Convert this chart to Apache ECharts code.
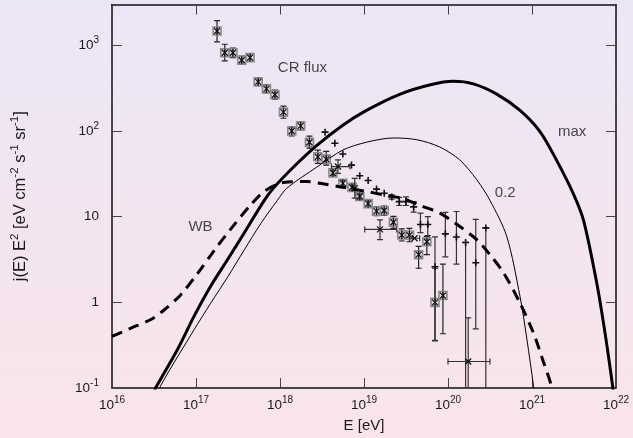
<!DOCTYPE html>
<html><head><meta charset="utf-8">
<script src="https://cdn.jsdelivr.net/npm/echarts@6/dist/echarts.min.js"></script>
<style>html,body{margin:0;padding:0;}#c{width:633px;height:438px;}</style>
</head><body><div id="c"></div>
<script>
// ---- axis ticks ----
const xTickExps = [16,17,18,19,20,21,22];
const yTickExps = [-1,0,1,2,3];

// ---- model curves [E (eV), j E^2] ----
const maxCurve = [[3.2e16,0.09],[3.3e16,0.1],[6.0e16,0.28],[9.5e16,0.69],[1.5e17,1.55],[2.4e17,3.2],[3.76e17,6.5],[6.5e17,15.5],[8.3e17,21.4],[1.45e18,38],[2.75e18,68],[5.6e18,117],[1.07e19,174],[2.7e19,270],[6.2e19,347],[1.15e20,380],[2.0e20,355],[3.8e20,270],[7.2e20,174],[1.25e21,98],[1.95e21,46],[3.1e21,18.6],[4.1e21,9.1],[5.9e21,1.68],[7.4e21,0.44],[9.1e21,0.107],[9.4e21,0.08]];
const fracCurve = [[3.7e16,0.09],[3.8e16,0.107],[9.5e16,0.48],[1.5e17,0.98],[2.4e17,2.0],[3.76e17,4.1],[5.9e17,8.3],[9.3e17,15.5],[1.2e18,21.4],[2.75e18,38],[5.6e18,60],[1.07e19,74],[2.24e19,83],[4.3e19,79],[8.0e19,65],[1.38e20,46],[2.2e20,27],[3.16e20,15.5],[5.0e20,5.9],[7.2e20,1.17],[8.7e20,0.37],[1.04e21,0.107],[1.07e21,0.08]];
const wbCurve = [[1e16,0.40],[1.68e16,0.50],[2.9e16,0.63],[4.2e16,0.82],[6.6e16,1.23],[1.05e17,2.19],[1.66e17,4.07],[2.63e17,7.3],[4.5e17,13.8],[6.6e17,20],[1.1e18,25],[2.1e18,25.7],[3.0e18,24.5],[5.1e18,22.4],[9.8e18,20],[1.86e19,17.7],[2.95e19,16.2],[4.7e19,13.5],[8.0e19,11],[1.26e20,8.2],[2.2e20,5.4],[3.16e20,3.6],[4.6e20,2.2],[7.2e20,0.98],[1.04e21,0.44],[1.35e21,0.21],[1.7e21,0.107],[1.82e21,0.08]];

// ---- measured CR flux, boxed asterisks ----
const crE   = [1.78e17,2.2e17,2.75e17,3.5e17,4.4e17,5.5e17,6.9e17,8.7e17,1.1e18,1.38e18,1.76e18,2.24e18,2.82e18,3.55e18,4.27e18,5.6e18,7.2e18,8.9e18,1.12e19,1.41e19,1.74e19,2.24e19,2.82e19,3.47e19,4.47e19,5.6e19,7.0e19,8.7e19];
const crVal = [1470,820,820,670,720,375,310,265,166,100,115,74,50,47,32.5,24.5,22,17.2,14.2,11.6,11.8,8.6,6.1,6.1,3.6,5.1,1.0,1.2];
const crLow = [1100,660,720,600,650,340,280,235,141,88,103,63,42,40,30,22.5,20,15.7,12.9,10.3,10.4,7.3,5.2,5.1,2.5,3.6,0.36,0.43];
const crHigh= [1950,1030,930,750,800,420,345,300,195,112,128,87,60,58,35,26.5,24,18.8,15.6,13,13.3,10.1,7.2,7.3,4.5,5.9,2.5,2.8];

// ---- measured CR flux, crosses ----
const hrE   = [3.44e18,4.5e18,5.6e18,7.1e18,8.9e18,1.12e19,1.41e19,1.74e19,2.14e19,2.63e19,3.16e19,3.9e19,4.7e19,5.75e19,7.0e19,9.3e19,1.26e20,1.62e20,2.14e20,2.82e20];
const hrVal = [97,72,54,40,30,26.5,21,18.8,17,15,15,13,8.1,8.1,2.6,6.3,5.8,5.0,2.9,7.4];
const hrLow = [97,72,54,40,30,26.5,21,18.8,16,13.5,13.5,11.3,6.5,6,0.355,3.4,2.8,0.01,0.49,0.01];
const hrHigh= [97,72,54,40,30,26.5,21,18.8,18,16.8,17,15,11,10,5.8,11.2,11.5,5.0,9.3,7.4];

// ---- measured CR flux, x marks with energy bins ----
const agE    = [4.9e18,7.76e18,1.55e19,4.0e19,1.74e20];
const agVal  = [38.5,21.5,7.1,5.6,0.204];
const agLow  = [32,16.5,5.4,5.6,0.01];
const agHigh = [46,28,9.2,5.6,0.66];
const agELow = [4.1e18,7.76e18,1.02e19,3.5e19,1.0e20];
const agEHigh= [6.8e18,7.76e18,2.45e19,4.6e19,3.16e20];

// ---- annotations ----
const noteText = ['CR flux','max','0.2','WB'];
const noteE    = [1.85e18,3.0e21,4.8e20,1.13e17];
const noteY    = [547,97,19.1,7.65];

const FONT = '"Liberation Sans", Arial, Helvetica, sans-serif';
const chart = echarts.init(document.getElementById('c'), null, {renderer:'canvas'});

function expLabel(v, plainSmall){
  const e = Math.round(Math.log10(v));
  if (plainSmall && e === 0) return '{b|1}';
  if (plainSmall && e === 1) return '{b|10}';
  return '{b|10}{s|' + e + '}';
}
const richTick = {
  b:{fontSize:13.5, fontFamily:FONT, color:'#1a1a1a'},
  s:{fontSize:10, fontFamily:FONT, color:'#1a1a1a', padding:[0,0,10,0]}
};

function seg(x1,y1,x2,y2,stroke,w){
  return {type:'line', shape:{x1:x1,y1:y1,x2:x2,y2:y2}, style:{stroke:stroke, lineWidth:w}};
}
function errorBars(children, api, x, lo, hi, xl, xh, y, col){
  const p = api.coord([x,y]);
  if (lo < hi){
    const a = api.coord([x,lo]), b = api.coord([x,hi]);
    children.push(seg(p[0],a[1],p[0],b[1],col,1.2));
    children.push(seg(p[0]-3,a[1],p[0]+3,a[1],col,1.2));
    children.push(seg(p[0]-3,b[1],p[0]+3,b[1],col,1.2));
  }
  if (xl < xh){
    const a = api.coord([xl,y]), b = api.coord([xh,y]);
    children.push(seg(a[0],p[1],b[0],p[1],col,1.2));
    children.push(seg(a[0],p[1]-3,a[0],p[1]+3,col,1.2));
    children.push(seg(b[0],p[1]-3,b[0],p[1]+3,col,1.2));
  }
  return p;
}

function renderBoxed(params, api){
  const x=api.value(0), y=api.value(1), lo=api.value(2), hi=api.value(3);
  const ch=[];
  const p = errorBars(ch, api, x, lo, hi, 0, 0, y, '#222');
  ch.push({type:'rect', shape:{x:p[0]-4,y:p[1]-4,width:8,height:8}, style:{stroke:'#8c8c8c', lineWidth:1.6, fill:'rgba(170,170,170,0.25)'}});
  ch.push(seg(p[0]-3,p[1]-3,p[0]+3,p[1]+3,'#111',1.2));
  ch.push(seg(p[0]-3,p[1]+3,p[0]+3,p[1]-3,'#111',1.2));
  ch.push(seg(p[0],p[1]-4,p[0],p[1]+4,'#111',1.2));
  return {type:'group', children:ch};
}
function renderPlus(params, api){
  const x=api.value(0), y=api.value(1), lo=api.value(2), hi=api.value(3);
  const ch=[];
  const p = errorBars(ch, api, x, lo, hi, 0, 0, y, '#333');
  ch.push(seg(p[0]-3.5,p[1],p[0]+3.5,p[1],'#111',1.6));
  ch.push(seg(p[0],p[1]-3.5,p[0],p[1]+3.5,'#111',1.6));
  return {type:'group', children:ch};
}
function renderX(params, api){
  const x=api.value(0), y=api.value(1), lo=api.value(2), hi=api.value(3), xl=api.value(4), xh=api.value(5);
  const ch=[];
  const p = errorBars(ch, api, x, lo, hi, xl, xh, y, '#333');
  ch.push(seg(p[0]-3,p[1]-3,p[0]+3,p[1]+3,'#111',1.2));
  ch.push(seg(p[0]-3,p[1]+3,p[0]+3,p[1]-3,'#111',1.2));
  return {type:'group', children:ch};
}

const axisCommon = {
  type:'log', logBase:10,
  axisLine:{show:true, onZero:false, lineStyle:{color:'#111', width:1.5}},
  axisTick:{show:true, inside:true, length:10, lineStyle:{color:'#444', width:1}},
  minorTick:{show:false}, splitLine:{show:false}
};

const option = {
  backgroundColor:{type:'linear', x:0, y:0, x2:0, y2:1, colorStops:[{offset:0,color:'#ebe6f6'},{offset:1,color:'#fae4ea'}]},
  animation:false,
  grid:{left:112, right:17, top:4.5, bottom:49, containLabel:false},
  xAxis:[
    Object.assign({}, axisCommon, {position:'bottom', min:Math.pow(10,xTickExps[0]), max:Math.pow(10,xTickExps[xTickExps.length-1]),
      name:'E [eV]', nameLocation:'middle', nameGap:30,
      nameTextStyle:{fontSize:15, fontFamily:FONT, color:'#1a1a1a'},
      axisLabel:{show:true, margin:7, formatter:v=>expLabel(v,false), rich:richTick}}),
    Object.assign({}, axisCommon, {position:'top', min:Math.pow(10,xTickExps[0]), max:Math.pow(10,xTickExps[xTickExps.length-1]), axisLabel:{show:false}})
  ],
  yAxis:[
    Object.assign({}, axisCommon, {position:'left', min:Math.pow(10,yTickExps[0]), max:3000,
      name:'j(E) E{s|2} [eV cm{s|-2} s{s|-1} sr{s|-1}]', nameLocation:'middle', nameGap:81,
      nameTextStyle:{fontSize:16.5, fontFamily:FONT, color:'#1a1a1a',
        rich:{s:{fontSize:11.5, fontFamily:FONT, color:'#1a1a1a', padding:[0,0,10,0]}}},
      axisLabel:{show:true, margin:13, showMaxLabel:false, formatter:v=>expLabel(v,true), rich:richTick}}),
    Object.assign({}, axisCommon, {position:'right', min:Math.pow(10,yTickExps[0]), max:3000, axisLabel:{show:false}})
  ],
  series:[
    {type:'line', name:'max', data:maxCurve, showSymbol:false, symbol:'none', smooth:0.3, clip:true,
     lineStyle:{color:'#000', width:3}},
    {type:'line', name:'0.2', data:fracCurve, showSymbol:false, symbol:'none', smooth:0.3, clip:true,
     lineStyle:{color:'#000', width:1}},
    {type:'line', name:'WB', data:wbCurve, showSymbol:false, symbol:'none', smooth:0.3, clip:true,
     lineStyle:{color:'#000', width:3, type:[11,7]}},
    {type:'custom', name:'boxed', clip:true, renderItem:renderBoxed,
     data: crE.map((e,i)=>[e,crVal[i],crLow[i],crHigh[i]]), encode:{x:0,y:1}},
    {type:'custom', name:'plus', clip:true, renderItem:renderPlus,
     data: hrE.map((e,i)=>[e,hrVal[i],hrLow[i],hrHigh[i]]), encode:{x:0,y:1}},
    {type:'custom', name:'xmark', clip:true, renderItem:renderX,
     data: agE.map((e,i)=>[e,agVal[i],agLow[i],agHigh[i],agELow[i],agEHigh[i]]), encode:{x:0,y:1}},
    {type:'scatter', name:'notes', symbolSize:1, itemStyle:{color:'rgba(0,0,0,0)'}, silent:true,
     data: noteText.map((t,i)=>({name:t, value:[noteE[i], noteY[i]]})),
     label:{show:true, position:'inside', formatter:p=>p.name, fontSize:15, fontFamily:FONT, color:'#1a1a1a'}}
  ]
};
chart.setOption(option);
</script>
</body></html>
